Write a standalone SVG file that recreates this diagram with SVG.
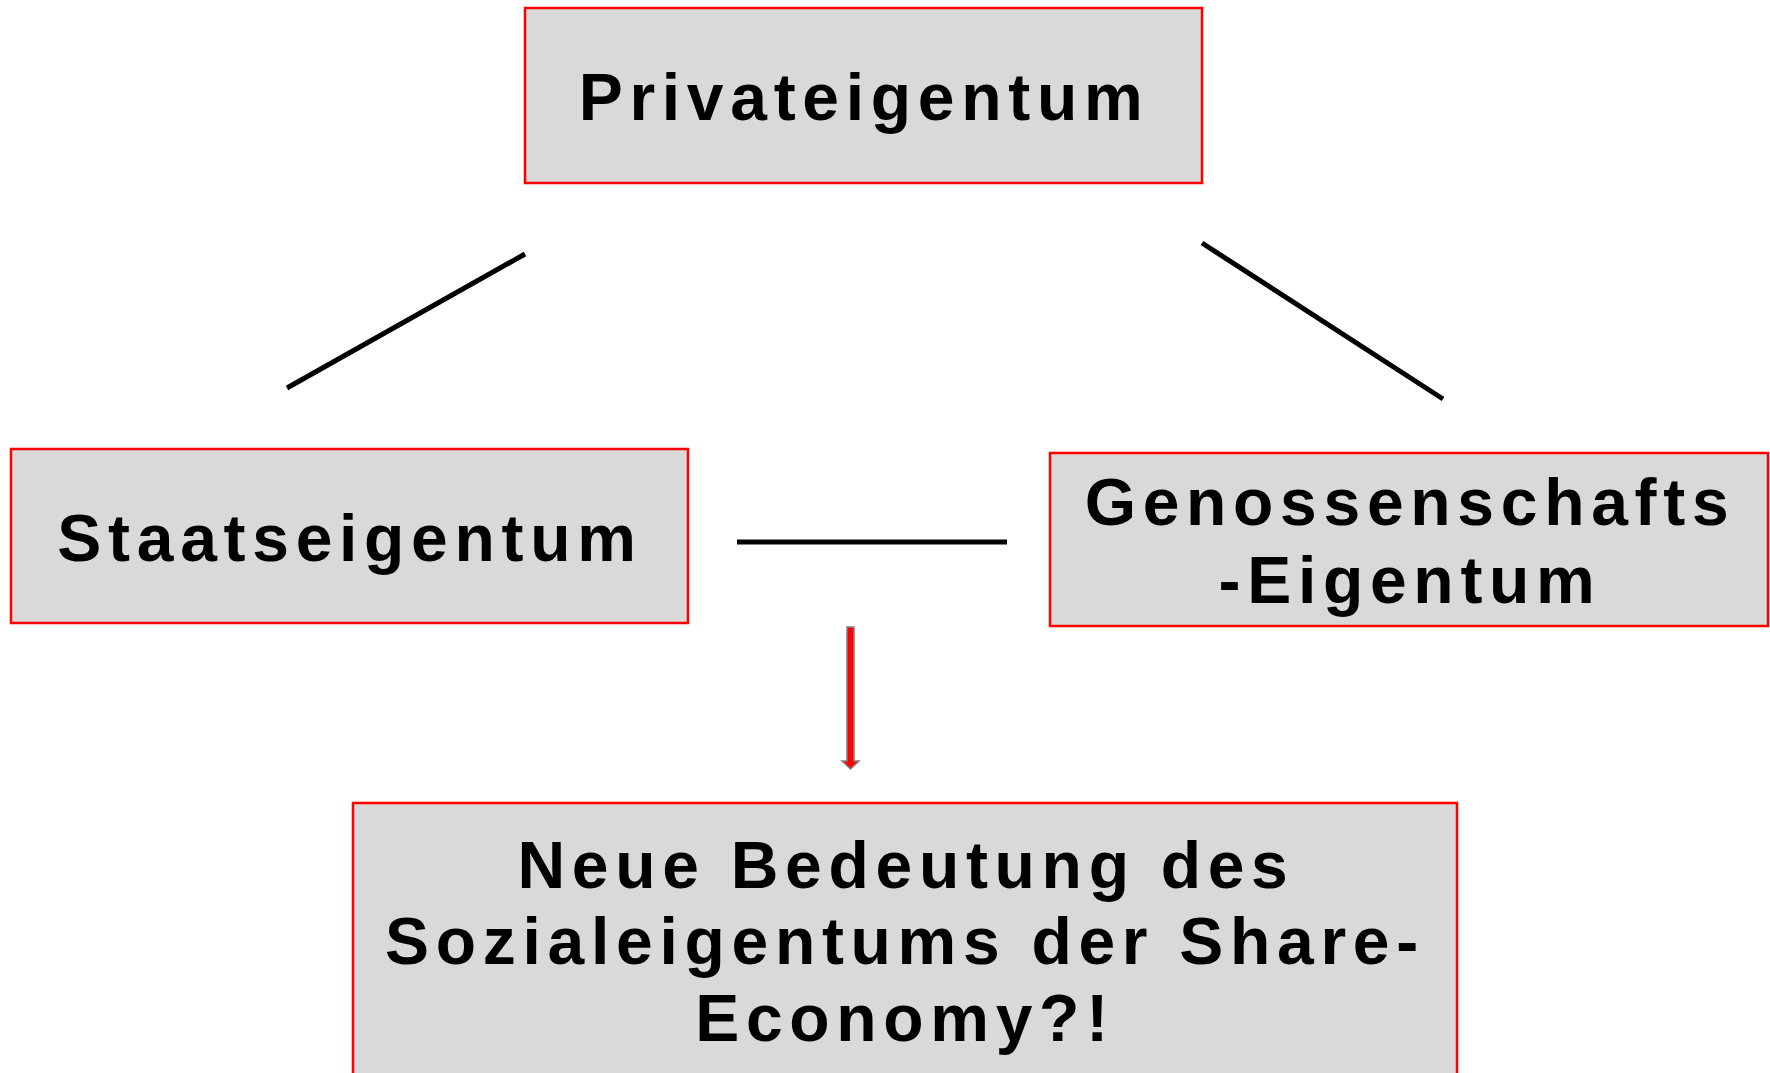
<svg xmlns="http://www.w3.org/2000/svg" width="1770" height="1073" viewBox="0 0 1770 1073">
<style>
.box{fill:#D9D9D9;stroke:#FF0000;stroke-width:2.5}
.lbl{font-family:"Liberation Sans",Arial,sans-serif;font-weight:bold;font-size:66px;letter-spacing:6.7px;fill:#000;text-anchor:middle}
.con{stroke:#000;stroke-width:5;fill:none}
</style>
<rect width="1770" height="1073" fill="#fff"/>
<g id="node-privateigentum">
<rect class="box" x="525" y="8" width="677" height="175"/>
<text class="lbl" x="864" y="120">Privateigentum</text>
</g>
<g id="node-staatseigentum">
<rect class="box" x="11" y="449" width="677" height="174"/>
<text class="lbl" x="350" y="561">Staatseigentum</text>
</g>
<g id="node-genossenschaft">
<rect class="box" x="1050" y="453" width="718" height="173"/>
<text class="lbl" x="1410" y="525">Genossenschafts</text>
<text class="lbl" x="1410" y="603">-Eigentum</text>
</g>
<g id="node-sozialeigentum">
<rect class="box" x="353" y="803" width="1104" height="290"/>
<text class="lbl" x="906" y="888">Neue Bedeutung des</text>
<text class="lbl" x="905" y="964">Sozialeigentums der Share-</text>
<text class="lbl" x="905" y="1041">Economy?!</text>
</g>
<g id="connectors">
<line class="con" x1="287" y1="388" x2="525" y2="254"/>
<line class="con" x1="1202" y1="243" x2="1443" y2="399"/>
<line class="con" x1="737" y1="542" x2="1007" y2="542"/>
<polygon points="847,627 854,627 854,761 859,761 850.5,769 842,761 847,761" fill="#FF0000" stroke="#808080" stroke-width="1.5"/>
</g>
</svg>
